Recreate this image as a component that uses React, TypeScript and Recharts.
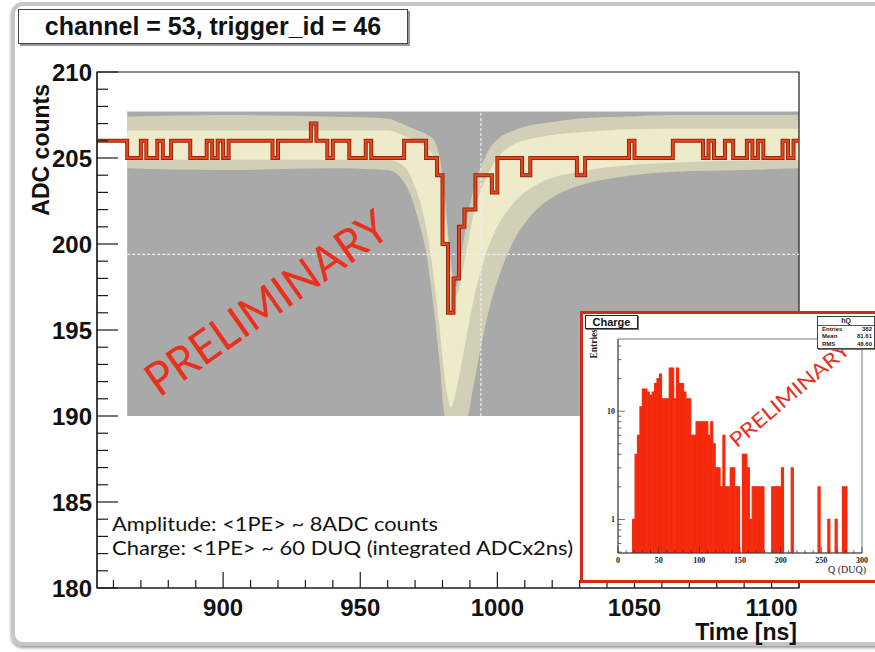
import React from 'react';
import {
  ComposedChart,
  BarChart,
  Bar,
  Line,
  Area,
  XAxis,
  YAxis,
  ReferenceArea,
  ReferenceLine,
} from 'recharts';

// red trace: sample time (ns) where the level changes, and the ADC level from there on
const stepTimes = [
  854, 865, 870, 872, 876, 878, 881, 888, 894, 896, 898, 900, 902, 918, 920, 932, 934, 938, 940,
  946, 952, 954, 966, 974, 978, 980, 982, 984, 986, 988, 992, 998, 1000, 1009, 1012, 1029, 1032,
  1048, 1050, 1064, 1075, 1077, 1079, 1083, 1086, 1091, 1093, 1095, 1097, 1104, 1106, 1108, 1110,
];
const stepValues = [
  206, 205, 206, 205, 206, 205, 206, 205, 206, 205, 206, 205, 206, 205, 206, 207, 206, 205, 206,
  205, 206, 205, 206, 205, 204, 200, 196, 198, 201, 202, 204, 203, 205, 204, 205, 204, 205,
  206, 205, 206, 205, 206, 205, 206, 205, 206, 205, 206, 205, 206, 205, 206, 206,
];

// persistence cloud of all recorded traces (outer envelope)
const envTimes = [865, 900, 940, 960, 965, 968, 971, 974, 977, 979, 981, 983, 985, 987, 989, 991, 994, 997, 1001, 1006, 1012, 1020, 1030, 1045, 1065, 1090, 1110];
const envLow = [204.4, 204.3, 204.4, 204.3, 203.8, 203.0, 201.5, 199.5, 196.0, 193.0, 190.0, 190.0, 190.0, 190.0, 190.0, 191.5, 194.0, 196.2, 198.3, 200.2, 201.6, 202.7, 203.4, 203.9, 204.2, 204.3, 204.4];
const envHigh = [207.4, 207.5, 207.4, 207.3, 207.0, 206.8, 206.6, 206.4, 206.0, 205.0, 202.5, 199.0, 197.5, 199.5, 201.5, 203.0, 204.5, 205.5, 206.2, 206.6, 206.9, 207.1, 207.3, 207.4, 207.5, 207.5, 207.5];

// dense core of the cloud
const coreTimes = [865, 960, 966, 970, 974, 977, 979, 981, 983, 985, 988, 991, 995, 1000, 1006, 1015, 1030, 1060, 1110];
const coreLow = [204.9, 204.9, 204.5, 203.3, 201.0, 197.8, 195.0, 192.0, 190.5, 191.5, 194.0, 196.5, 199.0, 201.0, 202.4, 203.5, 204.2, 204.7, 204.9];
const coreHigh = [206.6, 206.6, 206.3, 206.0, 205.6, 205.0, 203.8, 201.5, 198.5, 197.0, 199.0, 201.5, 203.5, 205.0, 205.8, 206.2, 206.5, 206.7, 206.7];

const timeTicks = [860, 870, 880, 890, 900, 910, 920, 930, 940, 950, 960, 970, 980, 990, 1000, 1010, 1020, 1030, 1040, 1050, 1060, 1070, 1080, 1090, 1100, 1110];
const adcTicks = [180, 181, 182, 183, 184, 185, 186, 187, 188, 189, 190, 191, 192, 193, 194, 195, 196, 197, 198, 199, 200, 201, 202, 203, 204, 205, 206, 207, 208, 209, 210];

// inset histogram hQ: 3 DUQ bins starting at 15, null = empty bin
const chargeFirstEdge = 15;
const chargeBinWidth = 3;
const chargeCounts = [
  null, 1, 4, 6, 11, 16, 16, 15, 14, 15, 18, 20, 22, 13, 13, 13, 25, 25, 13, 25, 18, 18, 15, 13, 13,
  6, 6, 8, 8, 8, 8, 8, 6, 8, 5, 3, 3, 2, 6, 2, 2, 3, 3, 2, 2, null, 4, 4, 3, 1, 2, 2, 2, 2, 2,
  null, null, null, 2, 2, 2, 2, 3, null, null, null, 3, null, null, null, null, null, null, null,
  null, null, null, 2, null, null, null, 1, null, null, 1, null, null, 2, 2, null, null, null, null, null,
];
const qTicks = [0, 10, 20, 30, 40, 50, 60, 70, 80, 90, 100, 110, 120, 130, 140, 150, 160, 170, 180, 190, 200, 210, 220, 230, 240, 250, 260, 270, 280, 290, 300];
const entryTicks = [0.5, 0.6, 0.7, 0.8, 0.9, 1, 2, 3, 4, 5, 6, 7, 8, 9, 10, 20, 30, 40];

const statsRows = [
  ['Entries', '382'],
  ['Mean', '81.61'],
  ['RMS', '48.60'],
];

const stepData = stepTimes.map((t, i) => ({ t, adc: stepValues[i] }));
const envData = envTimes.map((t, i) => ({ t, band: [envLow[i], envHigh[i]] }));
const coreData = coreTimes.map((t, i) => ({ t, band: [coreLow[i], coreHigh[i]] }));
const chargeData = chargeCounts.map((n, i) => ({
  q: chargeFirstEdge + chargeBinWidth * i + chargeBinWidth / 2,
  n,
}));

const ROOT_FONT = '"Liberation Sans", Arial, Helvetica, sans-serif';
const SERIF = '"Liberation Serif", "Times New Roman", serif';
const SLIDE_FONT = 'Lato, "Open Sans", sans-serif';

const AdcTick = (props: any) => {
  const { x, y, payload } = props;
  const v = payload.value;
  const major = v % 5 === 0;
  return (
    <g>
      <line x1={x} y1={y} x2={x + (major ? 21 : 11)} y2={y} stroke="#1c1c1c" strokeWidth={1.2} />
      {major && (
        <text x={x - 5} y={y + 8.5} textAnchor="end" fontFamily={ROOT_FONT} fontWeight="bold" fontSize={24} fill="#111">
          {v}
        </text>
      )}
    </g>
  );
};

const TimeTick = (props: any) => {
  const { x, y, payload } = props;
  const v = payload.value;
  const major = v % 50 === 0;
  return (
    <g>
      <line x1={x} y1={y} x2={x} y2={y - (major ? 16 : 8)} stroke="#1c1c1c" strokeWidth={1.2} />
      {major && (
        <text x={x} y={y + 28} textAnchor="middle" fontFamily={ROOT_FONT} fontWeight="bold" fontSize={24} fill="#111">
          {v}
        </text>
      )}
    </g>
  );
};

const QTick = (props: any) => {
  const { x, y, payload } = props;
  const v = payload.value;
  const major = v % 50 === 0;
  return (
    <g>
      <line x1={x} y1={y} x2={x} y2={y - (major ? 6 : 3)} stroke="#333" strokeWidth={0.7} />
      {major && (
        <text x={x} y={y + 10} textAnchor="middle" fontFamily={SERIF} fontWeight="bold" fontSize={8} fill="#222">
          {v}
        </text>
      )}
    </g>
  );
};

const EntryTick = (props: any) => {
  const { x, y, payload } = props;
  const v = payload.value;
  const major = v === 1 || v === 10;
  return (
    <g>
      <line x1={x} y1={y} x2={x + (major ? 7 : 3.5)} y2={y} stroke="#333" strokeWidth={0.7} />
      {major && (
        <text x={x - 3} y={y + 3} textAnchor="end" fontFamily={SERIF} fontWeight="bold" fontSize={8} fill="#222">
          {v}
        </text>
      )}
    </g>
  );
};

const ChargeInset = () => (
  <div
    style={{
      position: 'absolute',
      left: 580,
      top: 311,
      width: 310,
      height: 266,
      border: '3px solid #cf2b1b',
      background: '#fff',
    }}
  >
    <BarChart
      width={300}
      height={264}
      data={chargeData}
      margin={{ top: 25, right: 21, bottom: 0, left: 0 }}
      barCategoryGap={0}
      barGap={0}
    >
      <XAxis
        type="number"
        dataKey="q"
        domain={[0, 300]}
        allowDataOverflow
        ticks={qTicks}
        interval={0}
        height={25}
        tickSize={0}
        tickMargin={0}
        tick={QTick}
        axisLine={{ stroke: '#333', strokeWidth: 0.8 }}
      />
      <YAxis
        type="number"
        scale="log"
        domain={[0.49, 46.5]}
        allowDataOverflow
        ticks={entryTicks}
        interval={0}
        width={35}
        tickSize={0}
        tickMargin={0}
        tick={EntryTick}
        axisLine={{ stroke: '#333', strokeWidth: 0.8 }}
      />
      <Bar dataKey="n" fill="#f42a0c" stroke="#f42a0c" strokeWidth={1.2} isAnimationActive={false} />
      <ReferenceArea x1={0} x2={300} y1={0.49} y2={46.5} fill="none" stroke="#555" strokeWidth={0.8} />
    </BarChart>
    <svg width={310} height={266} style={{ position: 'absolute', left: 0, top: 0, pointerEvents: 'none' }}>
      <text transform="translate(14,15) rotate(-90)" textAnchor="end" fontFamily={SERIF} fontWeight="bold" fontSize={9.5} fill="#222">
        Entries
      </text>
      <text x={283} y={259} textAnchor="end" fontFamily={SERIF} fontSize={10} fill="#222">
        Q (DUQ)
      </text>
      <text
        transform="translate(206,80) rotate(-40)"
        textAnchor="middle"
        dominantBaseline="central"
        fontFamily={SLIDE_FONT}
        fontSize={20}
        textLength={150}
        lengthAdjust="spacingAndGlyphs"
        fill="#e3341f"
      >
        PRELIMINARY
      </text>
    </svg>
    <div
      style={{
        position: 'absolute',
        left: 2,
        top: 1,
        width: 51,
        height: 12,
        border: '1px solid #222',
        boxShadow: '1px 1px 0 #777',
        background: '#fff',
        fontFamily: ROOT_FONT,
        fontWeight: 'bold',
        fontSize: 11,
        lineHeight: '12px',
        textAlign: 'center',
        color: '#111',
      }}
    >
      Charge
    </div>
    <div
      style={{
        position: 'absolute',
        left: 234,
        top: 2,
        width: 56,
        height: 31,
        border: '1px solid #444',
        boxShadow: '1px 1px 0 #777',
        background: '#fff',
        fontFamily: ROOT_FONT,
        fontSize: 6,
        color: '#222',
      }}
    >
      <div style={{ textAlign: 'center', fontWeight: 'bold', fontSize: 7, lineHeight: '8px', borderBottom: '1px solid #555' }}>hQ</div>
      {statsRows.map(([k, v]) => (
        <div key={k} style={{ display: 'flex', justifyContent: 'space-between', padding: '0 2px 0 4px', lineHeight: '7.3px', fontWeight: 'bold' }}>
          <span>{k}</span>
          <span>{v}</span>
        </div>
      ))}
    </div>
  </div>
);

export default function App() {
  return (
    <div
      style={{
        position: 'fixed',
        left: 0,
        top: 0,
        width: 875,
        height: 652,
        overflow: 'hidden',
        background: '#fff',
      }}
    >
      {/* slide border */}
      <div
        style={{
          position: 'absolute',
          left: 11,
          top: 2,
          width: 900,
          height: 636,
          border: '4px solid #c6c6c6',
          borderRadius: 12,
          boxShadow: '0 2px 3px #9a9a9a',
        }}
      />
      <div style={{ position: 'absolute', left: 0, top: 0 }}>
        <ComposedChart width={875} height={652} margin={{ top: 72, right: 76, bottom: 0, left: 0 }}>
          <XAxis
            type="number"
            dataKey="t"
            domain={[854, 1110]}
            allowDataOverflow
            ticks={timeTicks}
            interval={0}
            height={64}
            tickSize={0}
            tickMargin={0}
            tick={TimeTick}
            axisLine={{ stroke: '#1c1c1c', strokeWidth: 1.2 }}
          />
          <YAxis
            type="number"
            domain={[180, 210]}
            allowDataOverflow
            ticks={adcTicks}
            interval={0}
            width={97}
            tickSize={0}
            tickMargin={0}
            tick={AdcTick}
            axisLine={{ stroke: '#1c1c1c', strokeWidth: 1.2 }}
          />
          <ReferenceArea x1={865} x2={1110} y1={190} y2={207.7} fill="#a9a9a9" fillOpacity={1} stroke="none" />
          <Area data={envData} dataKey="band" type="monotone" stroke="none" fill="#f3efbf" fillOpacity={0.55} isAnimationActive={false} />
          <Area data={coreData} dataKey="band" type="monotone" stroke="none" fill="#f7f4d2" fillOpacity={0.75} isAnimationActive={false} />
          <ReferenceLine segment={[{ x: 994, y: 190 }, { x: 994, y: 207.7 }]} stroke="#eeeeee" strokeDasharray="3 2" strokeWidth={1.2} />
          <ReferenceLine segment={[{ x: 865, y: 199.4 }, { x: 1110, y: 199.4 }]} stroke="#eeeeee" strokeDasharray="3 2" strokeWidth={1.2} />
          <Line data={stepData} dataKey="adc" type="stepAfter" stroke="#8c2a12" strokeWidth={4} dot={false} isAnimationActive={false} />
          <Line data={stepData} dataKey="adc" type="stepAfter" stroke="#f0421a" strokeWidth={2} dot={false} isAnimationActive={false} />
          <ReferenceArea x1={854} x2={1110} y1={180} y2={210} fill="none" stroke="#1c1c1c" strokeWidth={1.2} />
        </ComposedChart>
      </div>
      <svg width={875} height={652} style={{ position: 'absolute', left: 0, top: 0, pointerEvents: 'none' }}>
        <text transform="translate(49,84) rotate(-90)" textAnchor="end" fontFamily={ROOT_FONT} fontWeight="bold" fontSize={23} fill="#111">
          ADC counts
        </text>
        <text x={797} y={640} textAnchor="end" fontFamily={ROOT_FONT} fontWeight="bold" fontSize={23} fill="#111">
          Time [ns]
        </text>
        <text
          transform="translate(266,302) rotate(-35)"
          textAnchor="middle"
          dominantBaseline="central"
          fontFamily={SLIDE_FONT}
          fontSize={46}
          textLength={285}
          lengthAdjust="spacingAndGlyphs"
          fill="#e8301c"
        >
          PRELIMINARY
        </text>
        <text x={112} y={531} fontFamily={SLIDE_FONT} fontSize={20} textLength={326} lengthAdjust="spacingAndGlyphs" fill="#111">
          Amplitude: &lt;1PE&gt; ~ 8ADC counts
        </text>
        <text x={112} y={555} fontFamily={SLIDE_FONT} fontSize={20} textLength={461} lengthAdjust="spacingAndGlyphs" fill="#111">
          Charge: &lt;1PE&gt; ~ 60 DUQ (integrated ADCx2ns)
        </text>
      </svg>
      <div
        style={{
          position: 'absolute',
          left: 18,
          top: 9,
          width: 388,
          height: 33,
          border: '1.5px solid #444',
          boxShadow: '2px 2px 0 #999',
          background: '#fff',
          fontFamily: ROOT_FONT,
          fontWeight: 'bold',
          fontSize: 25,
          lineHeight: '33px',
          textAlign: 'center',
          color: '#111',
        }}
      >
        channel = 53, trigger_id = 46
      </div>
      <ChargeInset />
    </div>
  );
}
